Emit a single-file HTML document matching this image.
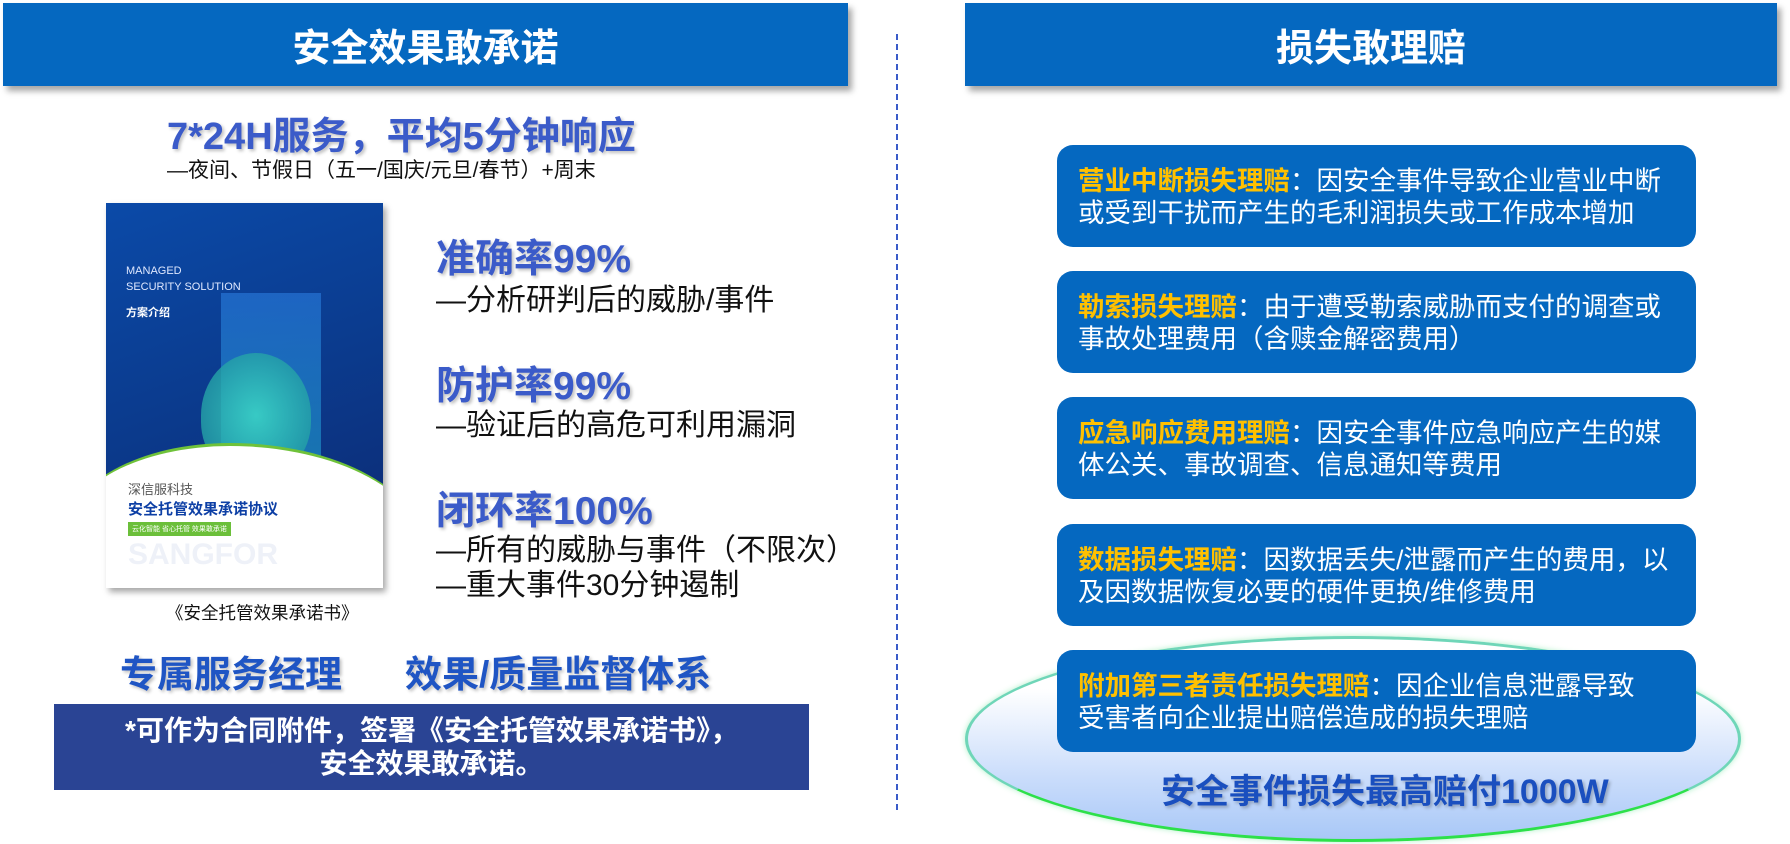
<!DOCTYPE html>
<html><head><meta charset="utf-8"><style>
*{margin:0;padding:0;box-sizing:border-box}
body{width:1790px;height:844px;background:#fff;position:relative;overflow:hidden;font-family:"Liberation Sans","Noto Sans CJK SC",sans-serif}
.abs{position:absolute;white-space:nowrap}
.hdr{position:absolute;background:#0568c0;color:#fff;font-weight:bold;font-size:38px;display:flex;align-items:center;justify-content:center;box-shadow:4px 5px 6px rgba(0,0,0,.35)}
.big{color:#3b5bc9;font-weight:bold;text-shadow:2px 2px 3px rgba(0,0,0,.25)}
.sub{color:#111;font-size:30px}
.box{position:absolute;left:1057px;width:639px;height:102px;background:#0568c0;border-radius:16px;color:#fff;font-size:26.5px;line-height:32px;padding:20px 0 0 21px;white-space:nowrap}
.box b{color:#ffc000}
</style></head><body>
<div class="hdr" style="left:3px;top:3px;width:845px;height:83px">安全效果敢承诺</div>
<div class="hdr" style="left:965px;top:3px;width:812px;height:83px">损失敢理赔</div>
<div style="position:absolute;left:896px;top:34px;height:776px;border-left:2px dashed #3a5bc9"></div>

<div class="abs big" style="left:167px;top:105px;font-size:38px">7*24H服务，平均5分钟响应</div>
<div class="abs" style="left:167px;top:154px;font-size:21px;color:#111">—夜间、节假日（五一/国庆/元旦/春节）+周末</div>

<div style="position:absolute;left:106px;top:203px;width:277px;height:385px;background:linear-gradient(160deg,#0b4aa8,#0b3a8c 50%,#0e2870);box-shadow:3px 4px 6px rgba(0,0,0,.35);overflow:hidden">
 <div class="abs" style="left:20px;top:60px;color:#dfe8ff;font-size:11px;line-height:16px">MANAGED<br>SECURITY SOLUTION</div>
 <div class="abs" style="left:20px;top:101px;color:#fff;font-size:11px;font-weight:bold">方案介绍</div>
 <div style="position:absolute;left:115px;top:90px;width:100px;height:170px;background:linear-gradient(#2a7de0,#1fa0d0);opacity:.6"></div>
 <div style="position:absolute;left:95px;top:150px;width:110px;height:125px;border-radius:50% 50% 45% 45%;background:radial-gradient(#3fe0c8,#1a8a9a);opacity:.8"></div>
 <div style="position:absolute;left:-40px;top:240px;width:360px;height:200px;background:#fff;border-radius:50% 60% 0 0;border-top:3px solid #6fc23a"></div>
 <div class="abs" style="left:22px;top:276px;color:#555;font-size:13px">深信服科技</div>
 <div class="abs" style="left:22px;top:295px;color:#0d3fa5;font-size:15px;font-weight:bold">安全托管效果承诺协议</div>
 <div class="abs" style="left:22px;top:319px;background:#6bbf3a;color:#fff;font-size:7px;padding:2px 4px">云化智能 省心托管 效果敢承诺</div>
 <div class="abs" style="left:22px;top:335px;color:#eef1f8;font-size:30px;font-weight:bold">SANGFOR</div>
</div>
<div class="abs" style="left:166px;top:600px;font-size:17.5px;color:#111">《安全托管效果承诺书》</div>

<div class="abs big" style="left:436px;top:228px;font-size:39px">准确率99%</div>
<div class="abs sub" style="left:436px;top:275px">—分析研判后的威胁/事件</div>
<div class="abs big" style="left:436px;top:355px;font-size:39px">防护率99%</div>
<div class="abs sub" style="left:436px;top:400px">—验证后的高危可利用漏洞</div>
<div class="abs big" style="left:436px;top:480px;font-size:39px">闭环率100%</div>
<div class="abs sub" style="left:436px;top:525px">—所有的威胁与事件（不限次）</div>
<div class="abs sub" style="left:436px;top:560px">—重大事件30分钟遏制</div>

<div class="abs big" style="left:120px;top:644px;font-size:37px;color:#1f55c4">专属服务经理</div>
<div class="abs big" style="left:405px;top:644px;font-size:37px;color:#1f55c4">效果/质量监督体系</div>
<div style="position:absolute;left:54px;top:704px;width:755px;height:86px;background:#2a4494;color:#fff;font-weight:bold;font-size:28px;line-height:33px;text-align:center;padding-top:10px;white-space:nowrap">*可作为合同附件，签署《安全托管效果承诺书》，<br>安全效果敢承诺。</div>

<div style="position:absolute;left:965px;top:636px;width:776px;height:206px;border-radius:50%;background:linear-gradient(#ffffff 25%,#c9dcfb 70%,#a9c8f7);border:3px solid #6fd6b8;border-bottom-color:#2de04a;box-shadow:0 0 6px rgba(60,220,120,.4)"></div>
<div class="abs" style="left:1161px;top:764px;font-size:34px;font-weight:bold;color:#1a4fbf;text-shadow:2px 2px 3px rgba(0,0,0,.25)">安全事件损失最高赔付1000W</div>

<div class="box" style="top:145px"><b>营业中断损失理赔</b>：因安全事件导致企业营业中断<br>或受到干扰而产生的毛利润损失或工作成本增加</div>
<div class="box" style="top:271px"><b>勒索损失理赔</b>：由于遭受勒索威胁而支付的调查或<br>事故处理费用（含赎金解密费用）</div>
<div class="box" style="top:397px"><b>应急响应费用理赔</b>：因安全事件应急响应产生的媒<br>体公关、事故调查、信息通知等费用</div>
<div class="box" style="top:524px"><b>数据损失理赔</b>：因数据丢失/泄露而产生的费用，以<br>及因数据恢复必要的硬件更换/维修费用</div>
<div class="box" style="top:650px"><b>附加第三者责任损失理赔</b>：因企业信息泄露导致<br>受害者向企业提出赔偿造成的损失理赔</div>
</body></html>
